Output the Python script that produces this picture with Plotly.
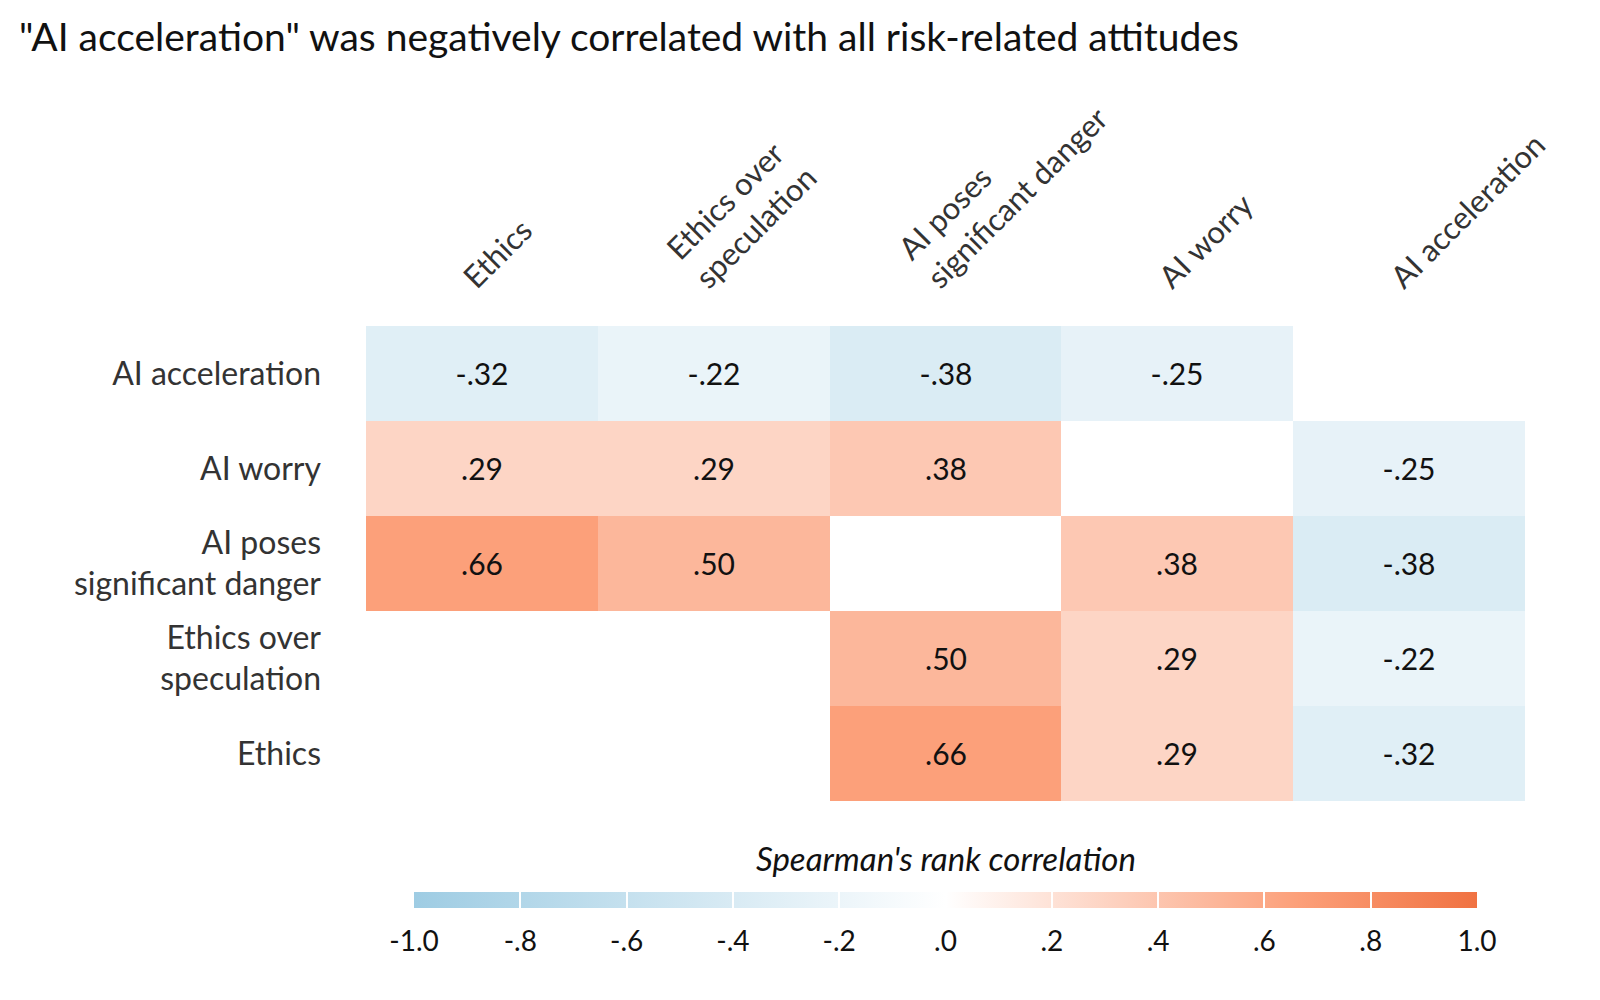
import plotly.graph_objects as go

columns = ["Ethics", "Ethics over<br>speculation", "AI poses<br>significant danger", "AI worry", "AI acceleration"]
rows = ["AI acceleration", "AI worry", "AI poses<br>significant danger", "Ethics over<br>speculation", "Ethics"]

row_ai_acceleration = [-0.32, -0.22, -0.38, -0.25, None]
row_ai_worry = [0.29, 0.29, 0.38, None, -0.25]
row_ai_danger = [0.66, 0.50, None, 0.38, -0.38]
row_ethics_over_spec = [None, None, 0.50, 0.29, -0.22]
row_ethics = [None, None, 0.66, 0.29, -0.32]

z = [row_ai_acceleration, row_ai_worry, row_ai_danger, row_ethics_over_spec, row_ethics]

colorbar_ticks = [-1.0, -0.8, -0.6, -0.4, -0.2, 0.0, 0.2, 0.4, 0.6, 0.8, 1.0]
colorbar_ticktext = ["-1.0", "-.8", "-.6", "-.4", "-.2", ".0", ".2", ".4", ".6", ".8", "1.0"]


def fmt(v):
    if v is None:
        return ""
    s = f"{v:.2f}"
    return s.replace("0.", ".", 1)


text = [[fmt(v) for v in r] for r in z]

FONT = "Lato"

colorscale = [
    [0.0, "rgb(158,204,227)"],
    [0.5, "rgb(255,255,255)"],
    [0.75, "rgb(252,183,155)"],
    [0.83, "rgb(252,160,122)"],
    [1.0, "rgb(240,114,66)"],
]

CB_Y = -0.1916
CB_LEN = 1063

# colorbar that carries the tick labels (drawn underneath)
label_bar = dict(
    orientation="h",
    x=0.5,
    xanchor="center",
    y=CB_Y,
    yanchor="top",
    lenmode="pixels",
    len=CB_LEN,
    thickness=16,
    outlinewidth=0,
    xpad=0,
    ypad=0,
    ticks="outside",
    ticklen=10,
    tickwidth=1,
    tickcolor="rgba(255,255,255,0)",
    tickvals=colorbar_ticks,
    ticktext=colorbar_ticktext,
    tickfont=dict(family=FONT, size=28, color="#111111"),
)

# colorbar with white separators at the ticks (drawn on top)
sep_bar = dict(
    orientation="h",
    x=0.5,
    xanchor="center",
    y=CB_Y,
    yanchor="top",
    lenmode="pixels",
    len=CB_LEN,
    thickness=16,
    outlinewidth=0,
    xpad=0,
    ypad=0,
    ticks="inside",
    ticklen=16,
    tickwidth=2,
    tickcolor="white",
    tickvals=colorbar_ticks,
    showticklabels=False,
)

fig = go.Figure()

fig.add_trace(
    go.Scatter(
        x=[None],
        y=[None],
        mode="markers",
        showlegend=False,
        hoverinfo="skip",
        marker=dict(
            color=[0],
            colorscale=colorscale,
            cmin=-1,
            cmax=1,
            showscale=True,
            colorbar=label_bar,
        ),
    )
)

fig.add_trace(
    go.Heatmap(
        z=z,
        x=columns,
        y=rows,
        text=text,
        texttemplate="%{text}",
        textfont=dict(family=FONT, size=30, color="#111111"),
        colorscale=colorscale,
        zmin=-1,
        zmax=1,
        xgap=0,
        ygap=0,
        hoverongaps=False,
        colorbar=sep_bar,
    )
)

fig.add_annotation(
    text="<i>Spearman's rank correlation</i>",
    xref="paper",
    yref="paper",
    x=0.5,
    y=-0.12,
    xanchor="center",
    yanchor="middle",
    showarrow=False,
    font=dict(family=FONT, size=33, color="#111111"),
)

fig.update_layout(
    width=1600,
    height=1000,
    paper_bgcolor="white",
    plot_bgcolor="white",
    margin=dict(l=358, r=83, t=318, b=207),
    title=dict(
        text='"AI acceleration" was negatively correlated with all risk-related attitudes',
        xref="container",
        x=11 / 1600,
        xanchor="left",
        yref="container",
        y=1 - 29 / 1000,
        yanchor="middle",
        font=dict(family=FONT, size=39, color="#111111"),
    ),
)

fig.update_xaxes(
    type="category",
    categoryorder="array",
    categoryarray=columns,
    side="top",
    tickangle=-45,
    showgrid=False,
    zeroline=False,
    showline=False,
    ticks="",
    ticklabelstandoff=24,
    ticklabelshift=-16,
    tickfont=dict(family=FONT, size=31, color="#333333"),
)
fig.update_yaxes(
    type="category",
    categoryorder="array",
    categoryarray=rows,
    autorange="reversed",
    showgrid=False,
    zeroline=False,
    showline=False,
    ticks="",
    ticklabelstandoff=44,
    tickfont=dict(family=FONT, size=32, color="#333333"),
)

fig.write_html("out.html")
